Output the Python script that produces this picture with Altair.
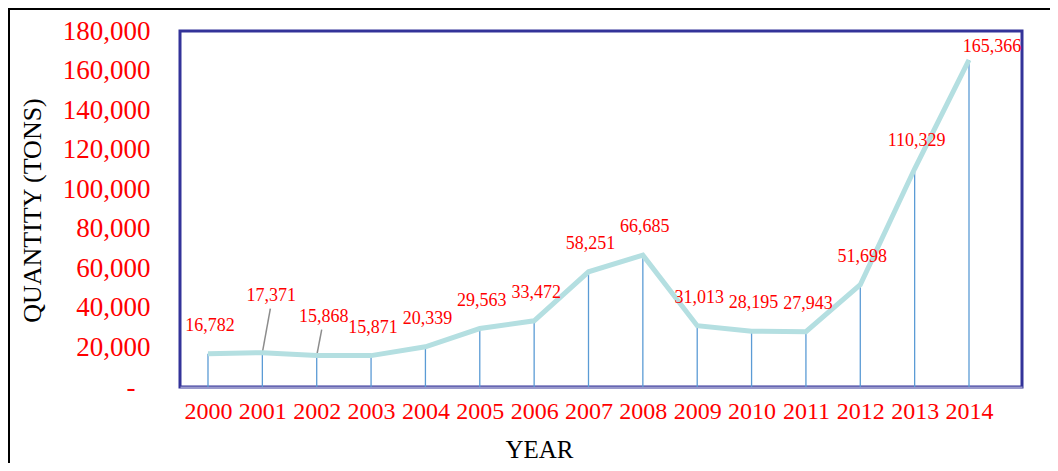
import altair as alt
import pandas as pd

# ---- data ----
years = list(range(2000, 2015))
quantities = [16782, 17371, 15868, 15871, 20339, 29563, 33472, 58251,
              66685, 31013, 28195, 27943, 51698, 110329, 165366]
y_tick_values = [0, 20000, 40000, 60000, 80000, 100000, 120000, 140000, 160000, 180000]

df = pd.DataFrame({"year": years, "qty": quantities})

# ---- styling ----
FONT = "Liberation Serif"
RED = "#ff0000"

x_enc = alt.X(
    "year:Q",
    scale=alt.Scale(domain=[1999.485, 2014.975], nice=False, zero=False),
    axis=alt.Axis(
        values=years, format="d", title="YEAR", grid=False, ticks=False,
        labelFont=FONT, labelFontSize=24, labelColor=RED, labelPadding=12,
        labelFlush=False, labelOverlap=False,
        domainColor="#9999cc", domainWidth=2,
        titleFont=FONT, titleFontSize=25, titleFontWeight="normal", titleColor="black",
        titleX=359, titleY=70, titleBaseline="alphabetic",
    ),
)
y_enc = alt.Y(
    "qty:Q",
    scale=alt.Scale(domain=[0, 180000], nice=False),
    axis=alt.Axis(
        values=y_tick_values, grid=False, ticks=False, domain=False,
        labelExpr="datum.value == 0 ? '-' : format(datum.value, ',')",
        labelFont=FONT, labelFontSize=27, labelColor=RED,
        labelPadding={"condition": {"test": "datum.value == 0", "value": 45}, "value": 30},
        labelFlush=False, labelOverlap=False,
        title="QUANTITY (TONS)", titleFont=FONT, titleFontSize=26,
        titleFontWeight="normal", titleColor="black",
        titleX=-148, titleY=179, titleBaseline="middle",
    ),
)

base = alt.Chart(df).encode(x=x_enc, y=y_enc)

drops = base.mark_rule(color="#5b9bd5", strokeWidth=1.3).encode(y2=alt.datum(0))
line = base.mark_line(color="#b4dfe1", strokeWidth=5)

text_style = dict(font=FONT, fontSize=18, color=RED, baseline="middle", align="center")
special = [2001, 2002, 2014]
label_offsets = {2001: (9, -57), 2002: (7, -39), 2014: (23, -13)}

labels_default = base.transform_filter(
    ~alt.FieldOneOfPredicate(field="year", oneOf=special)
).mark_text(dx=2, dy=-28, **text_style).encode(text=alt.Text("qty:Q", format=","))

special_labels = [
    base.transform_filter(alt.datum.year == yr)
    .mark_text(dx=dx, dy=dy, **text_style)
    .encode(text=alt.Text("qty:Q", format=","))
    for yr, (dx, dy) in label_offsets.items()
]

leader_offsets = {2001: (8, -44), 2002: (5, -26)}
leaders = [
    base.transform_filter(alt.datum.year == yr)
    .mark_rule(color="#8c8c8c", strokeWidth=1.5, x2Offset=lx, y2Offset=ly)
    .encode(x2="year:Q", y2="qty:Q")
    for yr, (lx, ly) in leader_offsets.items()
]

border = alt.Chart(pd.DataFrame({"a": [0]})).mark_rect(
    filled=False, stroke="black", strokeWidth=2
).encode(x=alt.value(-171), x2=alt.value(950), y=alt.value(-22), y2=alt.value(500))

chart = alt.layer(
    border, drops, *leaders, line, labels_default, *special_labels
).properties(
    width=842, height=356,
    autosize=alt.AutoSizeParams(type="none"),
    padding={"left": 172, "top": 23, "right": 28, "bottom": 76},
).configure_view(stroke="#333399", strokeWidth=3)

chart.save("out.html", embed_options={"renderer": "svg", "actions": False})
